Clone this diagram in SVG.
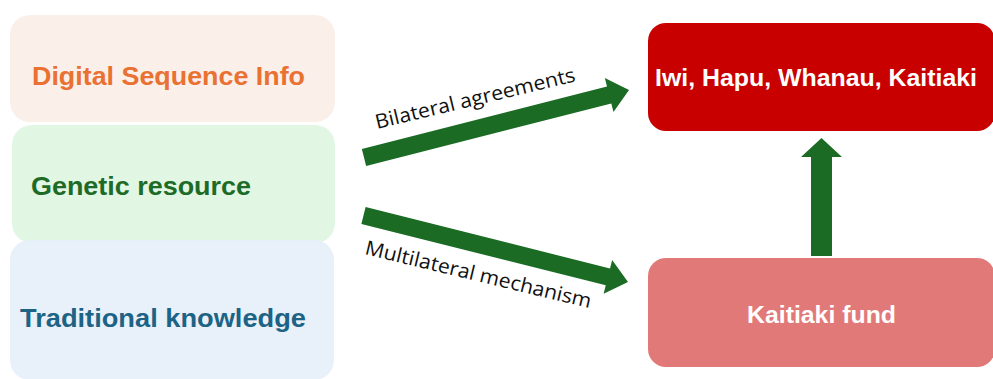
<svg xmlns="http://www.w3.org/2000/svg" width="993" height="379" viewBox="0 0 993 379">
  <style>
    .lbl { font-family: "Liberation Sans", Arial, sans-serif; font-weight: bold; font-size: 25px; }
    .rt { font-family: "Liberation Sans", Arial, sans-serif; font-weight: bold; font-size: 23px; fill: #ffffff; }
    .el { font-family: "Open Sans", "Liberation Sans", sans-serif; font-size: 20px; fill: #111111; }
    .arrow { fill: #1B6B25; }
  </style>
  <rect width="993" height="379" fill="#ffffff"/>
  <g id="dsi">
    <rect x="10" y="15" width="325" height="107" rx="20" fill="#FBEFEA"/>
    <text class="lbl" x="32" y="85" fill="#E97132" textLength="273" lengthAdjust="spacingAndGlyphs">Digital Sequence Info</text>
  </g>
  <g id="genetic">
    <rect x="12" y="125" width="323" height="118" rx="20" fill="#DFF5E1" fill-opacity="0.95"/>
    <text class="lbl" x="31" y="195" fill="#1D6B27" textLength="220" lengthAdjust="spacingAndGlyphs">Genetic resource</text>
  </g>
  <g id="traditional">
    <rect x="10" y="240" width="324" height="140" rx="20" fill="#E6EFFA" fill-opacity="0.92"/>
    <text class="lbl" x="20" y="327" fill="#1C6385" textLength="286" lengthAdjust="spacingAndGlyphs">Traditional knowledge</text>
  </g>
  <g id="iwi">
    <rect x="648" y="23" width="347" height="108" rx="18" fill="#C80000"/>
    <text class="rt" x="655" y="86" textLength="322" lengthAdjust="spacingAndGlyphs">Iwi, Hapu, Whanau, Kaitiaki</text>
  </g>
  <g id="fund">
    <rect x="648" y="258" width="347" height="109" rx="18" fill="#E27979"/>
    <text class="rt" x="747" y="323" textLength="149" lengthAdjust="spacingAndGlyphs">Kaitiaki fund</text>
  </g>
  <g id="connectors">
    <polygon class="arrow" transform="translate(364,157.5) rotate(-14.3)" points="0,-8.7 253,-8.7 253,-17.5 273.5,0 253,17.5 253,8.7 0,8.7"/>
    <text class="el" transform="translate(377,129) rotate(-13.5)" textLength="205" lengthAdjust="spacingAndGlyphs">Bilateral agreements</text>
    <polygon class="arrow" transform="translate(363.5,215.5) rotate(14.1)" points="0,-8.7 252,-8.7 252,-17.5 272.7,0 252,17.5 252,8.7 0,8.7"/>
    <text class="el" transform="translate(364,254) rotate(13.5)" textLength="232" lengthAdjust="spacingAndGlyphs">Multilateral mechanism</text>
    <polygon class="arrow" points="811,256 811,157 801,157 821.5,138 842,157 832,157 832,256"/>
  </g>
</svg>
